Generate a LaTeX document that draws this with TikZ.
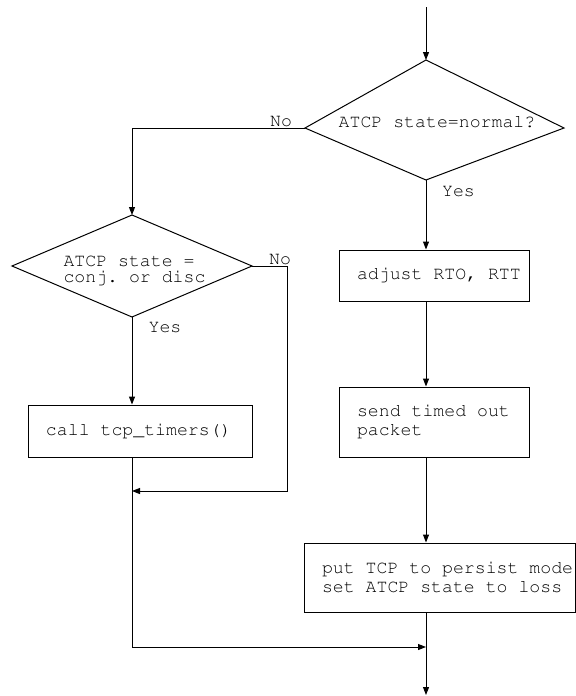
\documentclass[tikz,border=0pt]{standalone}
\usepackage[T1]{fontenc}
\usepackage{courier}
\usetikzlibrary{arrows.meta}
% fixed-pitch text with rigid spaces
\newcommand\flowfont[1]{\ttfamily\fontsize{9.1}{#1}\selectfont\frenchspacing
  \fontdimen3\font=0pt\fontdimen4\font=0pt}

\begin{document}
\begin{tikzpicture}[x=0.5pt,y=-0.5pt,line width=0.5pt,
  every node/.style={font=\flowfont{9.5}},
  flow/.style={-{Triangle[length=4pt,width=3pt]}},
  box/.style={draw,align=flush left,inner xsep=9pt,inner ysep=0pt},
  txt/.style={inner sep=0pt}]
\useasboundingbox (0,0) rectangle (576,696);
% first test: is the ATCP state normal
\coordinate (start) at (426,7);
\coordinate (nt) at (426,60);
\coordinate (nr) at (564,128);
\coordinate (nb) at (426,180);
\coordinate (nl) at (305,128);
\draw (nt) -- (nr) -- (nb) -- (nl) -- cycle;
\node[txt,anchor=base] (normal) at (437,127) {ATCP state=normal?};
\node[txt,anchor=base] (no1) at (281,126) {No};
\node[txt,anchor=base] (yes1) at (458.5,196) {Yes};
% second test: congestion or disconnection
\coordinate (ct) at (132,215);
\coordinate (cr) at (252,266);
\coordinate (cb) at (132,317);
\coordinate (cl) at (12,266);
\draw (ct) -- (cr) -- (cb) -- (cl) -- cycle;
\node[txt,anchor=west,align=left,font=\flowfont{8}] (conj) at (63,270.5) {ATCP state =\\conj. or disc};
\node[txt,anchor=base] (no2) at (280,264) {No};
\node[txt,anchor=base] (yes2) at (165,332) {Yes};
% actions
\node[box,text width=94pt,minimum height=26pt] (timers) at (140,431) {call tcp\_timers()};
\node[box,text width=77pt,minimum height=25.5pt] (adjust) at (434,275.5) {adjust~RTO,~RTT};
\node[box,text width=77pt,minimum height=35pt] (send) at (434,422) {send timed out\\packet};
\node[box,text width=117.5pt,minimum height=34.5pt] (persist) at (439.5,577.5) {put~TCP~to~persist~mode\\set~ATCP~state~to~loss};
\coordinate (merge1) at (132,491);
\coordinate (merge2) at (426,647);
\coordinate (finish) at (426,695);
% connectors
\draw[flow] (start) -- (nt);
\draw[flow] (nl) -| (ct);
\draw[flow] (cr) -- ++(35,0) |- (merge1);
\draw[flow] (cb) -- (cb |- timers.north);
\draw[flow] (timers.south -| cb) |- (merge2);
\draw[flow] (nb) -- (nb |- adjust.north);
\draw[flow] (adjust.south -| nb) -- (nb |- send.north);
\draw[flow] (send.south -| nb) -- (nb |- persist.north);
\draw[flow] (persist.south -| nb) -- (finish);
\end{tikzpicture}
\end{document}
